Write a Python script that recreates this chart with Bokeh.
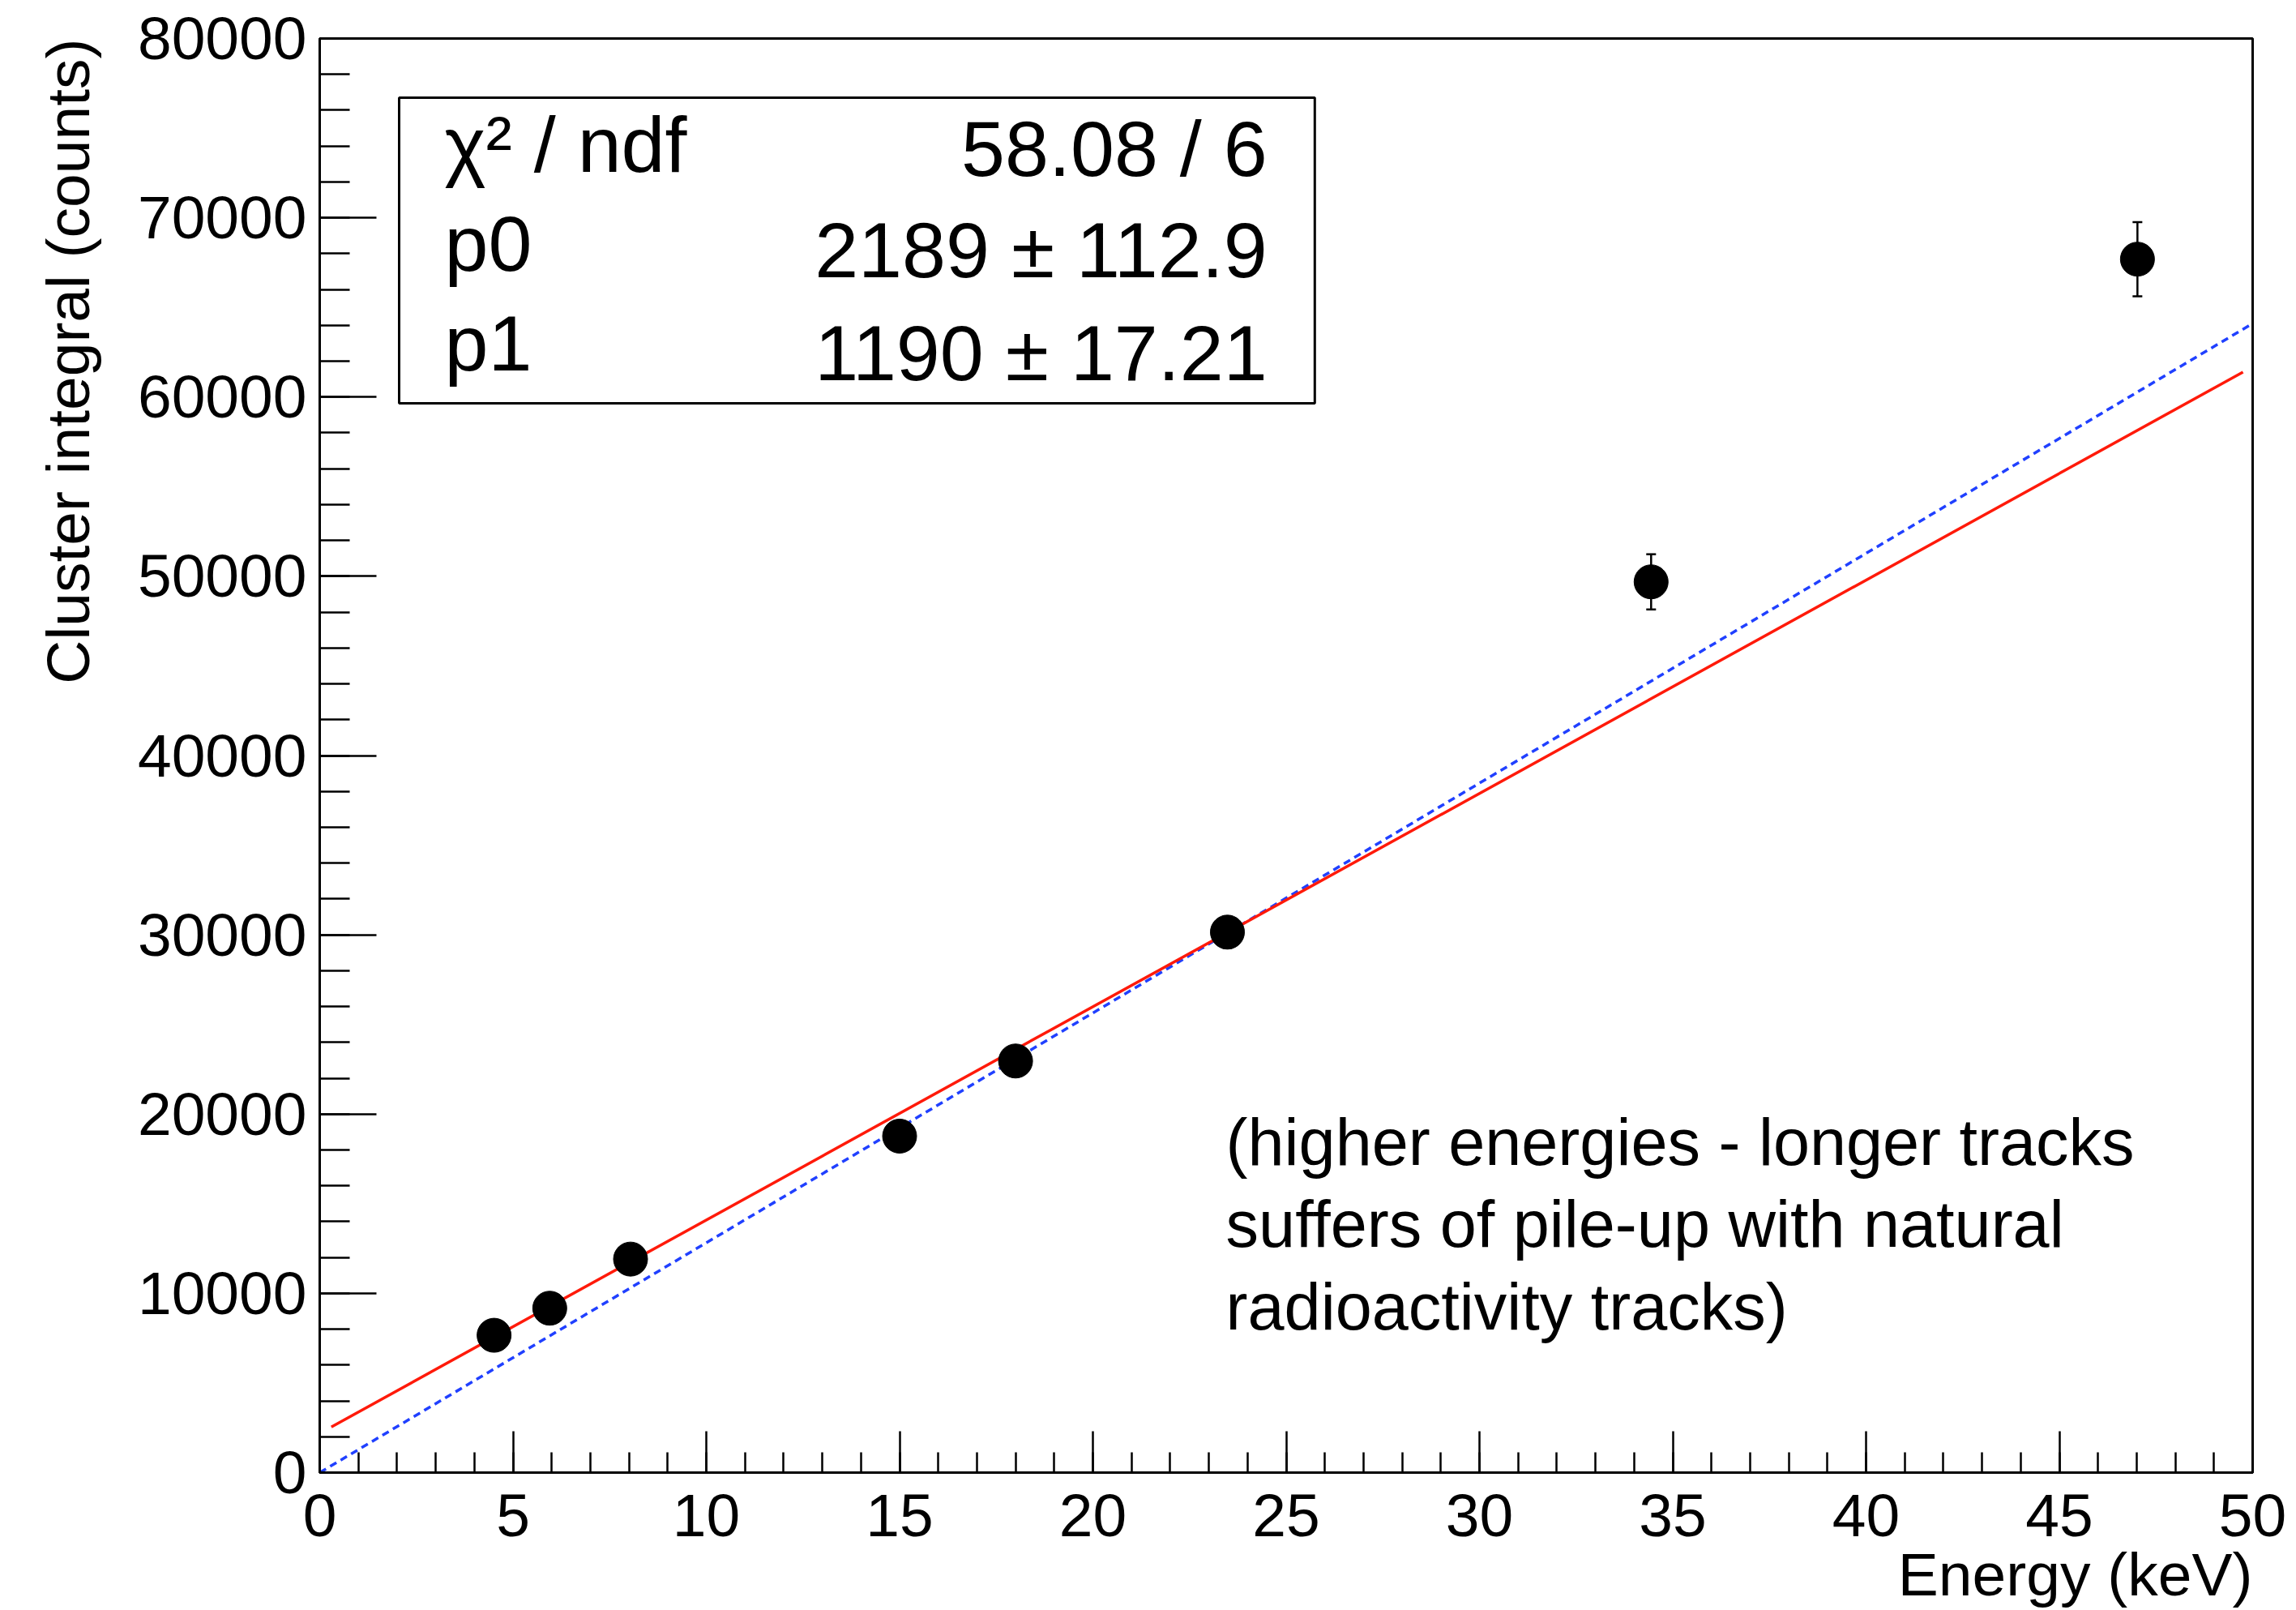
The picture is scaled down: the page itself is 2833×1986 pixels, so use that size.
import math
from bokeh.plotting import figure
from bokeh.models import (Range1d, SingleIntervalTicker, Label, BoxAnnotation,
                          Whisker, TeeHead, ColumnDataSource, Title)
from bokeh.embed import file_html
from bokeh.resources import INLINE

# ---- data ----
energy_kev = [4.51, 5.95, 8.04, 15.0, 18.0, 23.48, 34.44, 47.02]
cluster_integral = [7660, 9170, 11910, 18770, 22960, 30150, 49690, 67690]
cluster_err = [230, 275, 357, 563, 690, 880, 1540, 2070]

# fit (red line) parameters, as shown in the stats box
p0, p0_err = 2189, 112.9
p1, p1_err = 1190, 17.21
chi2, ndf = 58.08, 6
fit_range = [0.3, 49.75]

# reference proportional line (blue dashed)
ref_x = [0.0, 50.0]
ref_y = [0.0, 64100.0]

x_ticks_interval = 5
y_ticks_interval = 10000

FONT = "Liberation Sans"

p = figure(width=2833, height=1984, output_backend="svg", toolbar_location=None,
           title=None, x_range=Range1d(0, 50), y_range=Range1d(0, 80000),
           min_border_left=394, min_border_right=54, min_border_top=47,
           min_border_bottom=168)
p.background_fill_color = "white"
p.border_fill_color = "white"
p.outline_line_color = "black"
p.outline_line_width = 3
p.xgrid.visible = False
p.ygrid.visible = False

# axes (ROOT style, ticks inside)
p.xaxis.ticker = SingleIntervalTicker(interval=x_ticks_interval, num_minor_ticks=5)
p.yaxis.ticker = SingleIntervalTicker(interval=y_ticks_interval, num_minor_ticks=5)
for ax in (p.xaxis[0], p.yaxis[0]):
    ax.axis_line_width = 3
    ax.major_tick_out = 0
    ax.minor_tick_out = 0
    ax.major_tick_line_width = 2.5
    ax.minor_tick_line_width = 2.5
    ax.major_label_text_font = FONT
    ax.major_label_text_font_size = "75px"
    ax.major_label_text_color = "black"
p.xaxis.major_tick_in = 51
p.xaxis.minor_tick_in = 25
p.yaxis.major_tick_in = 70
p.yaxis.minor_tick_in = 37
p.xaxis.major_label_standoff = 27
p.yaxis.major_label_standoff = 16

# axis titles (ROOT style: at the ends of the axes)
p.add_layout(Title(text="Energy (keV)", align="right", text_font=FONT,
                   text_font_size="75px", text_font_style="normal",
                   text_color="black", standoff=0, offset=0), "below")
p.add_layout(Title(text="Cluster integral (counts)", align="right", text_font=FONT,
                   text_font_size="75px", text_font_style="normal",
                   vertical_align="top",
                   text_color="black", standoff=78, offset=0), "left")

# reference dashed line
p.line(ref_x, ref_y, line_color="#2040ff", line_width=3.5, line_dash="9 6")

# fit line
fit_y = [p0 + p1 * x for x in fit_range]
p.line(fit_range, fit_y, line_color="#ff1a0a", line_width=3.5)

# error bars + points
src = ColumnDataSource(dict(
    x=energy_kev, y=cluster_integral,
    lower=[v - e for v, e in zip(cluster_integral, cluster_err)],
    upper=[v + e for v, e in zip(cluster_integral, cluster_err)]))
w = Whisker(base="x", lower="lower", upper="upper", source=src,
            line_color="black", line_width=2.5, level="underlay",
            upper_head=TeeHead(size=12, line_width=2.5, line_color="black"),
            lower_head=TeeHead(size=12, line_width=2.5, line_color="black"))
p.add_layout(w)
p.scatter("x", "y", source=src, marker="circle", size=42,
          fill_color="black", line_color="black")

# stats box
p.add_layout(BoxAnnotation(left=2.055, right=25.74, bottom=59650, top=76700,
                           fill_color="white", fill_alpha=1.0,
                           line_color="black", line_alpha=1.0, line_width=3,
                           level="overlay"))
stats_left = ["χ² / ndf", "p0", "p1"]
stats_right = [f"{chi2:.2f} / {ndf}", f"{p0} ± {p0_err}", f"{p1} ± {p1_err}"]
left_base = [74080, 68560, 63000]
right_base = [73850, 68200, 62450]
for t, yb in zip(stats_left, left_base):
    p.add_layout(Label(x=3.23, y=yb, text=t, text_font=FONT, text_font_size="97px",
                       text_align="left", text_baseline="alphabetic",
                       text_color="black", level="overlay"))
for t, yb in zip(stats_right, right_base):
    p.add_layout(Label(x=24.51, y=yb, text=t, text_font=FONT, text_font_size="97px",
                       text_align="right", text_baseline="alphabetic",
                       text_color="black", level="overlay"))

# comment text
note_lines = ["(higher energies - longer tracks",
              "suffers of pile-up with natural",
              "radioactivity tracks)"]
for t, yb in zip(note_lines, [18450, 13840, 9230]):
    p.add_layout(Label(x=23.44, y=yb, text=t, text_font=FONT, text_font_size="81px",
                       text_align="left", text_baseline="alphabetic",
                       text_color="black"))

open("out.html", "w").write(file_html(p, INLINE))
